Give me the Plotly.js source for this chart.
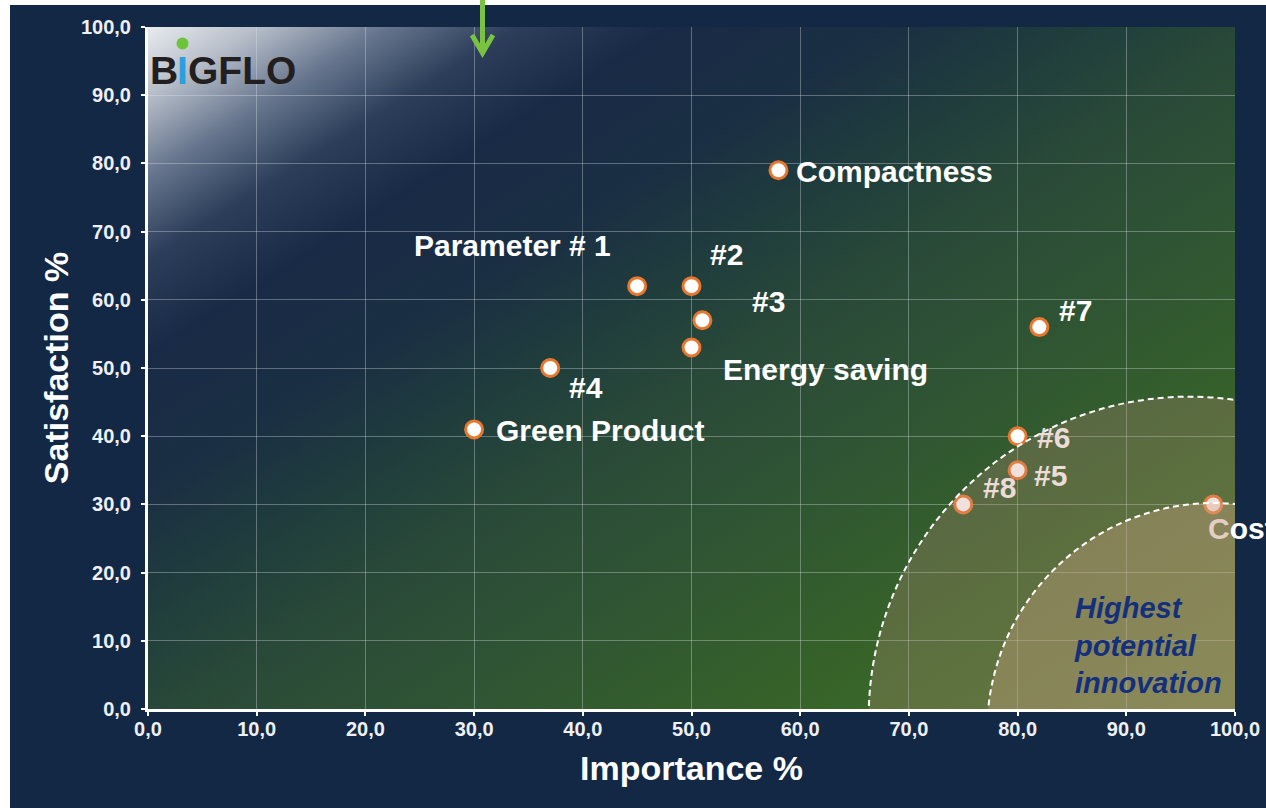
<!DOCTYPE html>
<html>
<head>
<meta charset="utf-8">
<script src="https://cdn.plot.ly/plotly-3.0.1.min.js"></script>
<style>
  html, body { margin: 0; padding: 0; background: #ffffff; }
  #wrap { position: relative; width: 1266px; height: 808px; overflow: hidden; background: #ffffff; }
  #navy { position: absolute; left: 10px; top: 5px; right: 0; bottom: 0; background: #132845; }
  #grad { position: absolute; left: 148px; top: 27px; width: 1087px; height: 682px;
    background: linear-gradient(to bottom right,
      #e8eaee 0%, #b8bfca 5%, #66758d 11%, #2c3e5a 17%, #192a46 24%,
      #1a2f43 34%, #213f3c 44%, #2a4a38 52%, #2f5434 63%, #366229 78%, #417628 100%); }
  #chart { position: absolute; left: 0; top: 0; width: 1266px; height: 808px; }
</style>
</head>
<body>
<div id="wrap">
  <div id="navy"></div>
  <div id="grad"></div>
  <div id="chart"></div>
</div>
<script>
// ---- data ----
const names        = ['Parameter # 1', '#2', '#3', 'Energy saving', '#4', 'Green Product', 'Compactness', '#7', '#6', '#5', '#8', 'Cost'];
const importance   = [45, 50, 51, 50, 37, 30, 58, 82, 80, 80, 75, 98];
const satisfaction = [62, 62, 57, 53, 50, 41, 79, 56, 40, 35, 30, 30];
const xTitle = 'Importance %';
const yTitle = 'Satisfaction %';
const zoneText = 'Highest<br>potential<br>innovation';

// ---- label placement (styling only) ----
const labelPlace = {
  'Parameter # 1': {xa: 'right', dx: -24, dy: 41},
  '#2':            {xa: 'left',  dx: 16,  dy: 32},
  '#3':            {xa: 'left',  dx: 48,  dy: 19},
  'Energy saving': {xa: 'left',  dx: 29,  dy: -22},
  '#4':            {xa: 'left',  dx: 17,  dy: -19},
  'Green Product': {xa: 'left',  dx: 20,  dy: -1},
  'Compactness':   {xa: 'left',  dx: 16,  dy: -1},
  '#7':            {xa: 'left',  dx: 18,  dy: 17},
  '#6':            {xa: 'left',  dx: 17,  dy: -1, c: '#ecdcd8'},
  '#5':            {xa: 'left',  dx: 14,  dy: -5, c: '#ecdcd8'},
  '#8':            {xa: 'left',  dx: 18,  dy: 17, c: '#ecdcd8'},
  'Cost':          {xa: 'left',  dx: -7,  dy: -24, html: '<span style="color:#e4cdc4">C</span>ost'}
};

const FONT = '"Liberation Sans", Arial, sans-serif';

const trace = {
  type: 'scatter', mode: 'markers',
  x: importance, y: satisfaction, text: names,
  hoverinfo: 'text',
  marker: { size: 17, color: '#fdfdfd', line: { color: '#e8772e', width: 3 } },
  cliponaxis: false
};

const annotations = names.map((n, i) => {
  const p = labelPlace[n];
  return {
    x: importance[i], y: satisfaction[i], xref: 'x', yref: 'y',
    text: p.html || n, showarrow: false,
    xanchor: p.xa, yanchor: 'middle', xshift: p.dx, yshift: p.dy,
    font: { family: FONT, size: 30, color: p.c || '#ffffff', weight: 'bold' }
  };
});

const px = v => (v - 148) / 1087;
const py = v => (709 - v) / 682;

// zone text
annotations.push({
  xref: 'paper', yref: 'paper', x: px(1072), y: py(645),
  xanchor: 'left', yanchor: 'middle', align: 'left', showarrow: false,
  text: '<b><i>' + zoneText + '</i></b>',
  font: { family: FONT, size: 29, color: '#14307c' }
});

// logo
const logoFont = { family: FONT, size: 39, color: '#231f20', weight: 'bold' };
annotations.push({ xref: 'paper', yref: 'paper', x: px(180), y: py(70), xanchor: 'right', yanchor: 'middle',
  showarrow: false, text: 'B', font: logoFont });
annotations.push({ xref: 'paper', yref: 'paper', x: px(182.5), y: py(70), xanchor: 'center', yanchor: 'middle',
  showarrow: false, text: 'I', font: Object.assign({}, logoFont, { color: '#2c9fe0' }) });
annotations.push({ xref: 'paper', yref: 'paper', x: px(186), y: py(70), xanchor: 'left', yanchor: 'middle',
  showarrow: false, text: 'GFLO', font: logoFont });

const shapes = [
  // outer zone
  { type: 'circle', xref: 'x', yref: 'y', x0: 66.3, x1: 125.3, y0: -48.4, y1: 45.8,
    fillcolor: 'rgba(205,145,130,0.25)', line: { color: '#ffffff', width: 2, dash: '6px,4px' }, layer: 'above' },
  // inner zone
  { type: 'circle', xref: 'x', yref: 'y', x0: 77.2, x1: 119.0, y0: -36.6, y1: 30.2,
    fillcolor: 'rgba(212,165,135,0.35)', line: { color: '#ffffff', width: 2, dash: '6px,4px' }, layer: 'above' },
  // logo dot
  { type: 'circle', xref: 'paper', yref: 'paper', x0: px(176.5), x1: px(188.5), y0: py(49.5), y1: py(37.5),
    fillcolor: '#6cc43a', line: { width: 0 }, layer: 'above' },
  // green arrow
  { type: 'path', xref: 'paper', yref: 'paper',
    path: 'M ' + px(482.5) + ' ' + py(0) + ' L ' + px(482.5) + ' ' + py(51),
    line: { color: '#7cc242', width: 5 }, layer: 'above' },
  { type: 'path', xref: 'paper', yref: 'paper',
    path: 'M ' + px(472) + ' ' + py(35) + ' L ' + px(482.5) + ' ' + py(53) + ' L ' + px(493) + ' ' + py(35),
    line: { color: '#7cc242', width: 5 }, layer: 'above' }
];

const axisCommon = {
  range: [0, 100], dtick: 10, tick0: 0, tickformat: '.1f',
  showline: true, linecolor: '#ffffff', linewidth: 3,
  ticks: 'outside', ticklen: 4, tickwidth: 2, tickcolor: '#ffffff',
  showgrid: true, gridcolor: 'rgba(220,228,235,0.35)', gridwidth: 1,
  zeroline: false, fixedrange: true,
  tickfont: { family: FONT, size: 20, color: '#eef0f4', weight: 'bold' }
};

const layout = {
  width: 1266, height: 808,
  margin: { l: 148, r: 31, t: 27, b: 99, pad: 0 },
  paper_bgcolor: 'rgba(0,0,0,0)', plot_bgcolor: 'rgba(0,0,0,0)',
  separators: ', ',
  showlegend: false,
  xaxis: Object.assign({}, axisCommon, {
    ticklabelstandoff: -4,
    title: { text: xTitle, standoff: 18, font: { family: FONT, size: 34, color: '#ffffff', weight: 'bold' } }
  }),
  yaxis: Object.assign({}, axisCommon, {
    ticklabelstandoff: 6,
    title: { text: yTitle, standoff: 3, font: { family: FONT, size: 34, color: '#ffffff', weight: 'bold' } }
  }),
  annotations: annotations,
  shapes: shapes
};

Plotly.newPlot('chart', [trace], layout, { displayModeBar: false, staticPlot: true });
</script>
</body>
</html>
